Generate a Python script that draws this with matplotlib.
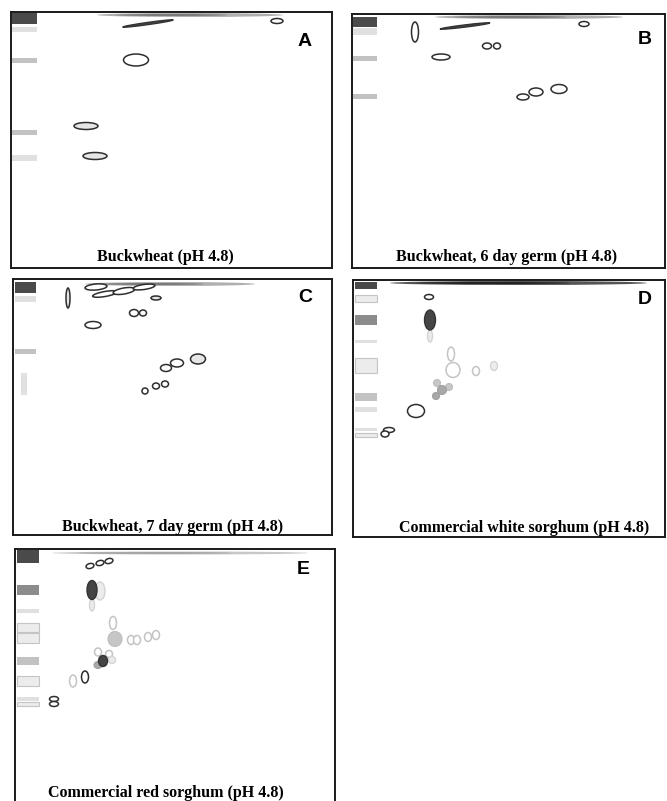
import matplotlib
matplotlib.use('Agg')
import matplotlib.pyplot as plt
from matplotlib.patches import Ellipse, Rectangle

W, H = 667, 801

# panel boxes in image pixels: left, top, right, bottom
boxes = {'A': (11, 12, 332, 268),
         'B': (352, 14, 665, 268),
         'C': (13, 279, 332, 535),
         'D': (353, 280, 665, 537),
         'E': (15, 549, 335, 815)}

titles = {'A': 'Buckwheat (pH 4.8)',
          'B': 'Buckwheat, 6 day germ (pH 4.8)',
          'C': 'Buckwheat, 7 day germ (pH 4.8)',
          'D': 'Commercial white sorghum (pH 4.8)',
          'E': 'Commercial red sorghum (pH 4.8)'}
title_pos = {'A': (165, 257), 'B': (507, 257), 'C': (173, 527),
             'D': (524, 528), 'E': (166, 793)}
letter_pos = {'A': (305, 42), 'B': (645, 40), 'C': (305, 298),
              'D': (645, 300), 'E': (303, 570)}

# marker lane bands: x0, x1, y0, y1, shade
bands = {
    'A': [(12, 37, 13, 24, 'dark'), (12, 37, 27, 32, 'light'),
          (12, 37, 58, 63, 'gray'), (12, 37, 130, 135, 'gray'),
          (12, 37, 155, 161, 'light')],
    'B': [(353, 377, 17, 27, 'dark'), (353, 377, 28, 35, 'light'),
          (353, 377, 56, 61, 'gray'), (353, 377, 94, 99, 'gray')],
    'C': [(15, 36, 282, 293, 'dark'), (15, 36, 296, 302, 'light'),
          (15, 36, 349, 354, 'gray'), (21, 27, 373, 395, 'light')],
    'D': [(355, 377, 282, 289, 'dark'), (355, 377, 295, 302, 'box'),
          (355, 377, 315, 325, 'mid'), (355, 377, 340, 343, 'light'),
          (355, 377, 358, 373, 'box'), (355, 377, 393, 401, 'gray'),
          (355, 377, 407, 412, 'light'), (355, 377, 428, 431, 'light'),
          (355, 377, 433, 437, 'box')],
    'E': [(17, 39, 550, 563, 'dark'), (17, 39, 585, 595, 'mid'),
          (17, 39, 609, 613, 'light'), (17, 39, 623, 632, 'box'),
          (17, 39, 633, 643, 'box'), (17, 39, 657, 665, 'gray'),
          (17, 39, 676, 686, 'box'), (17, 39, 697, 701, 'light'),
          (17, 39, 702, 706, 'box')],
}

# streak along the top: x0, x1, y, thickness, shade
streaks = {'A': (97, 283, 15, 4, 'gray'), 'B': (435, 623, 17, 4, 'gray'),
           'C': (85, 255, 284, 4, 'gray'), 'D': (390, 647, 283, 4, 'dark'),
           'E': (52, 308, 553, 3, 'pale')}

# spots: x, y, width, height, angle, kind
spots = {
    'A': [(148, 23.5, 51, 2.2, -8, 'dark'), (277, 21, 12, 5, 0, 'open'),
          (136, 60, 25, 12, 0, 'open'), (86, 126, 24, 7, 0, 'openlight'),
          (95, 156, 24, 7, 0, 'openlight')],
    'B': [(465, 26, 50, 2.2, -7, 'dark'), (415, 32, 7, 20, 0, 'open'),
          (584, 24, 10, 5, 0, 'open'), (487, 46, 9, 6, 0, 'open'),
          (497, 46, 7, 6, 0, 'open'), (441, 57, 18, 6, 0, 'open'),
          (523, 97, 12, 6, 0, 'open'), (536, 92, 14, 8, 0, 'open'),
          (559, 89, 16, 9, 0, 'open')],
    'C': [(68, 298, 4, 20, 0, 'openlight'), (96, 287, 22, 6, -5, 'open'),
          (105, 294, 25, 5, -10, 'open'), (124, 291, 22, 6, -10, 'open'),
          (144, 287, 22, 5, -8, 'open'), (156, 298, 10, 4, 0, 'openlight'),
          (134, 313, 9, 7, 0, 'open'), (143, 313, 7, 6, 0, 'open'),
          (93, 325, 16, 7, 0, 'open'), (198, 359, 15, 10, 0, 'openlight'),
          (177, 363, 13, 8, 0, 'open'), (166, 368, 11, 7, 0, 'open'),
          (165, 384, 7, 6, 0, 'open'), (156, 386, 7, 6, 0, 'open'),
          (145, 391, 6, 6, 0, 'open')],
    'D': [(429, 297, 9, 5, 0, 'open'), (430, 336, 5, 12, 0, 'palefill'),
          (430, 320, 11, 20, 0, 'dark'), (451, 354, 7, 14, 0, 'pale'),
          (453, 370, 14, 15, 0, 'pale'), (476, 371, 7, 9, 0, 'pale'),
          (494, 366, 7, 9, 0, 'palefill'), (437, 383, 7, 7, 0, 'gray'),
          (449, 387, 7, 7, 0, 'gray'), (442, 390, 9, 9, 0, 'mid'),
          (436, 396, 7, 7, 0, 'mid'), (416, 411, 17, 13, 0, 'open'),
          (389, 430, 11, 5, 0, 'open'), (385, 434, 8, 6, 0, 'open')],
    'E': [(90, 566, 8, 5, -15, 'open'), (100, 563, 8, 5, -15, 'open'),
          (109, 561, 8, 5, -15, 'open'), (100, 591, 10, 18, 0, 'palefill'),
          (92, 605, 5, 12, 0, 'palefill'), (92, 590, 10, 19, 0, 'dark'),
          (113, 623, 7, 13, 0, 'pale'), (115, 639, 14, 15, 0, 'gray'),
          (131, 640, 7, 9, 0, 'pale'), (137, 640, 7, 9, 0, 'pale'),
          (148, 637, 7, 9, 0, 'pale'), (156, 635, 7, 9, 0, 'pale'),
          (98, 652, 7, 8, 0, 'pale'), (109, 654, 7, 7, 0, 'pale'),
          (112, 660, 7, 7, 0, 'palefill'), (98, 665, 8, 7, 0, 'mid'),
          (103, 661, 9, 11, 0, 'dark'), (73, 681, 7, 12, 0, 'pale'),
          (85, 677, 7, 12, 0, 'open'), (54, 699, 9, 5, 0, 'open'),
          (54, 704, 9, 5, 0, 'open')],
}

band_style = {'dark': dict(fc='#4a4a4a', ec='none'),
              'mid': dict(fc='#8c8c8c', ec='none'),
              'gray': dict(fc='#c2c2c2', ec='none'),
              'light': dict(fc='#e0e0e0', ec='none'),
              'box': dict(fc='#ececec', ec='#c4c4c4', lw=0.8)}
spot_style = {'open': dict(fc='white', ec='#2e2e2e', lw=1.1),
              'openlight': dict(fc='#e6e6e6', ec='#2e2e2e', lw=1.1),
              'pale': dict(fc='white', ec='#c4c4c4', lw=1.1),
              'palefill': dict(fc='#ececec', ec='#d4d4d4', lw=1.0),
              'gray': dict(fc='#c6c6c6', ec='#bdbdbd', lw=0.8),
              'mid': dict(fc='#a8a8a8', ec='#a0a0a0', lw=0.8),
              'dark': dict(fc='#454545', ec='#333333', lw=1.0)}
streak_color = {'gray': ('#b0b0b0', '#7a7a7a'), 'dark': ('#555555', '#222222'),
                'pale': ('#c8c8c8', '#9a9a9a')}

fig = plt.figure(figsize=(W / 100, H / 100), dpi=100)

for key, (x0, y0, x1, y1) in boxes.items():
    ax = fig.add_axes([x0 / W, 1 - y1 / H, (x1 - x0) / W, (y1 - y0) / H])
    ax.set_xlim(x0, x1)
    ax.set_ylim(y1, y0)
    ax.set_xticks([])
    ax.set_yticks([])
    for s in ax.spines.values():
        s.set_linewidth(1.4)
        s.set_color('#1a1a1a')

    for bx0, bx1, by0, by1, shade in bands[key]:
        ax.add_patch(Rectangle((bx0, by0), bx1 - bx0, by1 - by0, **band_style[shade]))

    sx0, sx1, sy, th, shade = streaks[key]
    outer, inner = streak_color[shade]
    ax.add_patch(Ellipse(((sx0 + sx1) / 2, sy), sx1 - sx0, th, fc=outer, ec='none'))
    ax.add_patch(Ellipse(((sx0 + sx1) / 2 - (sx1 - sx0) * 0.1, sy), (sx1 - sx0) * 0.6,
                         th * 0.5, fc=inner, ec='none'))

    for x, y, w, h, ang, kind in spots[key]:
        ax.add_patch(Ellipse((x, y), w, h, angle=ang, **spot_style[kind]))

    lx, ly = letter_pos[key]
    ax.text(lx, ly, key, ha='center', va='center', fontsize=14,
            fontweight='bold', family='Liberation Sans')
    tx, ty = title_pos[key]
    ax.text(tx, ty, titles[key], ha='center', va='center',
            fontsize=11.5, fontweight='bold', family='Liberation Serif')

fig.savefig('out.png', dpi=100)
